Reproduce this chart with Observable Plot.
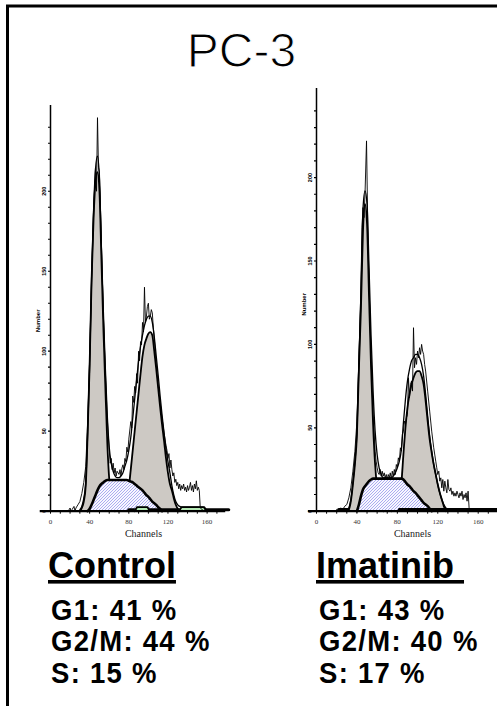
<!DOCTYPE html>
<html><head><meta charset="utf-8">
<script src="https://cdn.jsdelivr.net/npm/d3@7"></script>
<script src="https://cdn.jsdelivr.net/npm/@observablehq/plot@0.6"></script>
<style>
body{margin:0;background:#fff;}
#wrap{position:relative;width:497px;height:706px;overflow:hidden;background:#fff;}
#wrap svg.panel{position:absolute;top:0;}
#overlay{position:absolute;left:0;top:0;}
</style></head>
<body><div id="wrap"></div>
<script>
// ---------- data (channel, count) ----------
const channelTicks = [0, 40, 80, 120, 160];
const channelMinor = [0,10,20,30,40,50,60,70,80,90,100,110,120,130,140,150,160,170];
const countTicks = [0, 50, 100, 150, 200];
const countMinor = [10,20,30,40,60,70,80,90,110,120,130,140,160,170,180,190,210,220,230,240];

const panels = ["Control", "Imatinib\u00a0"];
const controlPhases = ["G1: 41 %", "G2/M: 44 %", "S: 15 %"];
const imatinibPhases = ["G1: 43 %", "G2/M: 40 %", "S: 17 %"];

const ctrlG1 = [[30,0],[32,2],[34,6],[36,16],[38,50],[40,92],[42,145],[44,183],[46,206],[48,212],[50,200],[52,158],[54,115],[56,78],[58,43],[60,20],[62,9],[64,3],[66,0]];
const ctrlG2 = [[70,0],[74,3],[78,9],[80,15],[82,26],[84,38],[86,50],[88,62],[90,74],[92,86],[94,97],[96,104],[98,108],[100,111],[102,112],[104,110],[106,100],[108,89],[110,77],[112,65],[114,54],[116,44],[118,33],[120,24],[122,17],[124,13],[126,8],[128,4],[130,1.5],[132,0]];
const ctrlS = [[38,0],[40,1.5],[42,4],[44,7],[46,10],[48,13],[50,15.5],[52,17],[54,18],[56,19],[58,19.5],[78,19.5],[80,19],[82,18.5],[84,18],[86,17],[88,16],[90,15],[92,14],[94,13],[96,11.5],[98,10],[100,9],[102,7.5],[104,6],[106,5],[108,4],[110,2.5],[112,1.5],[114,0]];
const ctrlAgg1 = [[86,0],[88.5,2.6],[99,2.6],[101.5,0]];
const ctrlAgg2 = [[131,0],[134,2.6],[157,2.6],[160,0]];
const ctrlDebris = [[80,0.9],[182,0.9]];
const ctrlModel = [[30,1],[32,3],[34,8],[36,18],[38,50],[40,92],[42,146],[44,188],[46,214],[48,222],[50,208],[52,165],[54,125],[56,90],[58,60],[60,40],[62,30],[64,25],[66,22],[68,21],[70,21],[72,22],[74,24],[76,28],[78,32],[80,38],[82,46],[84,58],[86,70],[88,82],[90,94],[92,103],[94,110],[96,116],[98,120],[100,122],[102,122],[104,118],[106,109],[108,97],[110,85],[112,72],[114,60],[116,49],[118,39],[120,31],[122,24],[124,16],[126,10],[128,6],[130,4],[132,3],[134,2.6],[156,2.6],[158,1],[160,0]];
const ctrlRaw = [[18,0],[20,2],[21,0],[22,1],[24,3],[25,0],[26,2],[28,4],[30,6],[32,11],[34,18],[36,28],[38,56],[40,96],[42,146],[44,188],[46,215],[47,200],[48,246],[49,215],[50,212],[52,168],[54,122],[56,88],[58,58],[60,38],[61,30],[62,33],[63,26],[64,30],[65,24],[66,27],[67,22],[68,25],[70,23],[71,26],[72,22],[73,27],[74,29],[75,26],[76,33],[77,31],[78,40],[79,37],[80,45],[82,56],[83,52],[84,72],[85,68],[86,78],[87,74],[88,86],[89,80],[90,100],[91,94],[92,106],[93,104],[94,118],[95,112],[96,140],[97,118],[98,122],[99,128],[100,130],[101,120],[102,122],[103,126],[104,124],[105,115],[106,108],[107,100],[108,92],[110,78],[112,68],[114,58],[116,49],[118,41],[119,38],[120,33],[121,36],[122,27],[123,32],[124,26],[125,22],[126,24],[127,18],[128,20],[129,16],[130,18],[131,14],[132,17],[133,13],[134,16],[135,14],[136,17],[137,13],[138,15],[139,12],[140,16],[141,13],[142,15],[143,18],[144,13],[145,16],[146,12],[147,17],[148,14],[149,19],[150,13],[151,15],[152,13],[153,2],[155,1],[157,0]];

const imaG1 = [[30,0],[32,1],[34,6],[36,16],[38,28],[40,46],[42,86],[44,122],[46,168],[48,184],[50,172],[52,128],[54,86],[56,52],[58,28],[60,14],[62,6],[64,2],[66,0]];
const imaG2 = [[74,0],[78,4],[82,10],[84,17],[86,34],[88,50],[90,62],[92,70],[94,76],[96,80],[98,83],[100,84],[102,84],[104,81],[106,76],[108,66],[110,54],[112,43],[114,35],[116,28],[118,22],[120,16],[122,11],[124,7],[126,3],[128,0]];
const imaS = [[40,0],[42,4],[44,9],[46,13],[48,15],[50,16.5],[52,18],[54,19],[56,19.5],[84,19.5],[86,19],[88,17.5],[90,16],[92,15],[94,13.5],[96,12],[98,11],[100,9.5],[102,8],[104,6.5],[106,5],[108,4],[110,3],[112,1.5],[114,0]];
const imaDebris1 = [[22,0.9],[31,0.9]];
const imaDebris2 = [[82,0.9],[186,0.9]];
const imaModel = [[30,0],[32,2],[34,7],[36,17],[38,30],[40,47],[42,90],[44,131],[46,181],[48,192],[50,184],[52,146],[54,105],[56,72],[58,48],[60,34],[62,26],[64,22],[66,20],[68,20],[70,20],[72,20],[74,20],[76,21],[78,23],[80,26],[82,30],[84,37],[86,53],[88,67],[90,78],[92,85],[94,90],[96,92],[98,94],[100,94],[102,92],[104,88],[106,81],[108,70],[110,57],[112,45],[114,36],[116,28],[118,22],[120,16],[122,11],[124,7],[126,4],[128,2],[130,1],[132,0]];
const imaRaw = [[18,0],[20,1],[22,0],[24,2],[26,1],[28,3],[30,4],[32,8],[34,14],[36,24],[38,36],[40,54],[42,92],[44,135],[45,170],[46,182],[47,176],[48,190],[49.5,222],[51,160],[52,135],[54,92],[56,58],[58,36],[59,30],[60,26],[61,23],[62,22],[63,25],[64,21],[65,24],[66,21],[67,23],[68,20],[69,22],[70,19],[71,22],[72,20],[73,23],[74,19],[75,24],[76,21],[77,25],[78,22],[79,28],[80,26],[81,32],[82,30],[83,38],[84,36],[85,46],[86,48],[87,54],[88,52],[89,56],[90,58],[91,80],[92,68],[93,76],[94,78],[95,72],[96,110],[97,86],[98,92],[99,88],[100,96],[101,92],[102,98],[103,94],[104,100],[105,96],[106,94],[107,88],[108,84],[110,72],[112,60],[114,48],[116,38],[118,30],[119,26],[120,22],[121,24],[122,18],[123,20],[124,14],[125,19],[126,12],[127,18],[128,14],[129,11],[130,19],[131,13],[132,12],[133,14],[134,10],[135,12],[136,9],[137,11],[138,9],[139,12],[140,10],[141,8],[142,11],[143,9],[144,12],[145,7],[146,10],[147,8],[148,11],[149,6],[150,12],[151,2],[152,0]];

// ---------- drawing ----------
const GREY = "#cdc9c4";
const GREEN = "#b4e8b4";
const SERIF = "'Liberation Serif','Times New Roman',serif";
const SANS = "'Liberation Sans',Arial,sans-serif";

function panel({id, left, width, marginLeft, marginRight, marginTop, yMax, xMin, xMax, g1, g2, s, model, raw, extra, numberY}) {
  const X = d => d[0], Y = d => d[1];
  const marks = [
    Plot.areaY(g1, {x: X, y: Y, fill: GREY, curve: "monotone-x"}),
    Plot.areaY(g2, {x: X, y: Y, fill: GREY, curve: "monotone-x"}),
    Plot.lineY(g1, {x: X, y: Y, stroke: "#000", strokeWidth: 1.8, curve: "monotone-x"}),
    Plot.lineY(g2, {x: X, y: Y, stroke: "#000", strokeWidth: 1.8, curve: "monotone-x"}),
    Plot.areaY(s, {x: X, y: Y, fill: `url(#hatch-${id})`, curve: "monotone-x"}),
    Plot.lineY(s, {x: X, y: Y, stroke: "#000", strokeWidth: 2.6, curve: "monotone-x"}),
    ...extra,
    Plot.lineY(model, {x: X, y: Y, stroke: "#000", strokeWidth: 1.3, curve: "monotone-x"}),
    Plot.lineY(raw, {x: X, y: Y, stroke: "#000", strokeWidth: 0.9}),
    Plot.ruleY([0], {x1: xMin, x2: xMax, stroke: "#000", strokeWidth: 2.2}),
    Plot.ruleX([0], {y1: 0, y2: yMax, stroke: "#000", strokeWidth: 1.5}),
    Plot.axisX(channelMinor, {tickSize: 3, tickFormat: () => "", strokeWidth: 1, label: null}),
    Plot.axisY(countMinor.concat(countTicks), {tickSize: 2, tickFormat: () => "", strokeWidth: 1.2, label: null}),
    Plot.text(channelTicks, {x: d => d, y: 0, dy: 11, text: d => String(d), fontFamily: SERIF, fontSize: 7, fill: "#333"}),
    Plot.text(["Channels"], {x: 95, y: 0, dy: 22.5, text: d => d, fontFamily: SERIF, fontSize: 10, fill: "#222"}),
    Plot.text(countTicks, {x: 0, y: d => d, dx: -6, text: d => String(d), rotate: -90, fontFamily: SANS, fontWeight: "bold", fontSize: 5.5, fill: "#000"}),
    Plot.text(["Number"], {x: 0, y: numberY, dx: -12, text: d => d, rotate: -90, fontFamily: SANS, fontWeight: "bold", fontSize: 6, fill: "#000"})
  ];
  const svg = Plot.plot({
    width, height: 540,
    marginLeft, marginRight, marginTop, marginBottom: 29.3,
    x: {domain: [0, 180], axis: null},
    y: {domain: [0, yMax], axis: null},
    style: {background: "transparent", overflow: "visible"},
    marks
  });
  svg.classList.add("panel");
  svg.style.left = left + "px";
  const defs = d3.select(svg).insert("defs", ":first-child");
  const pat = defs.append("pattern").attr("id", `hatch-${id}`).attr("patternUnits", "userSpaceOnUse")
    .attr("width", 3).attr("height", 3);
  pat.append("rect").attr("width", 3).attr("height", 3).attr("fill", "#f7f7ff");
  pat.append("path").attr("d", "M-1,1 L1,-1 M0,3 L3,0 M2,4 L4,2").attr("stroke", "#8a8aea").attr("stroke-width", 0.7);
  return svg;
}

const wrap = document.getElementById("wrap");

const X = d => d[0], Y = d => d[1];
wrap.appendChild(panel({
  id: "c", left: 0, width: 240, marginLeft: 50, marginRight: 13.8, marginTop: 105, yMax: 253.6, xMin: -10.5, xMax: 179,
  g1: ctrlG1, g2: ctrlG2, s: ctrlS, model: ctrlModel, raw: ctrlRaw, numberY: 119,
  extra: [
    Plot.lineY(ctrlDebris, {x: X, y: Y, stroke: "#000", strokeWidth: 3.2}),
    Plot.areaY(ctrlAgg1, {x: X, y: Y, fill: GREEN}),
    Plot.lineY(ctrlAgg1, {x: X, y: Y, stroke: "#000", strokeWidth: 1.8}),
    Plot.areaY(ctrlAgg2, {x: X, y: Y, fill: GREEN}),
    Plot.lineY(ctrlAgg2, {x: X, y: Y, stroke: "#000", strokeWidth: 1.8})
  ]
}));
wrap.appendChild(panel({
  id: "i", left: 250, width: 260, marginLeft: 66, marginRight: 12.1, marginTop: 88, yMax: 253.4, xMin: -8, xMax: 186,
  g1: imaG1, g2: imaG2, s: imaS, model: imaModel, raw: imaRaw, numberY: 124,
  extra: [
    Plot.lineY(imaDebris1, {x: X, y: Y, stroke: "#000", strokeWidth: 3.2}),
    Plot.lineY(imaDebris2, {x: X, y: Y, stroke: "#000", strokeWidth: 3.2})
  ]
}));

// overlay: frame lines, title, phase percentages
const ov = d3.select(wrap).append("svg").attr("id", "overlay").attr("width", 497).attr("height", 706);
ov.append("path").attr("d", "M7.5,706 L7.5,6 L497,6").attr("fill", "none").attr("stroke", "#000").attr("stroke-width", 3);
ov.append("text").attr("x", 241.5).attr("y", 67).attr("text-anchor", "middle")
  .attr("font-family", SANS).attr("font-size", 48).attr("fill", "#000")
  .attr("stroke", "#fff").attr("stroke-width", 1.1).attr("paint-order", "normal").text("PC-3");

function labels(x, title, phases) {
  ov.append("text").attr("x", x).attr("y", 578).attr("font-family", SANS).attr("font-weight", "bold")
    .attr("font-size", 36).attr("text-decoration", "underline").text(title);
  phases.forEach((p, i) => {
    ov.append("text").attr("x", x + 3).attr("y", 620 + i * 31.5).attr("font-family", SANS)
      .attr("font-weight", "bold").attr("font-size", 27.5).attr("letter-spacing", 1.3)
      .attr("transform", `translate(${x + 3},${620 + i * 31.5}) scale(1,1.1) translate(${-(x + 3)},${-(620 + i * 31.5)})`)
      .text(p);
  });
}
labels(48, panels[0], controlPhases);
labels(316, panels[1], imatinibPhases);
</script>
</body></html>
